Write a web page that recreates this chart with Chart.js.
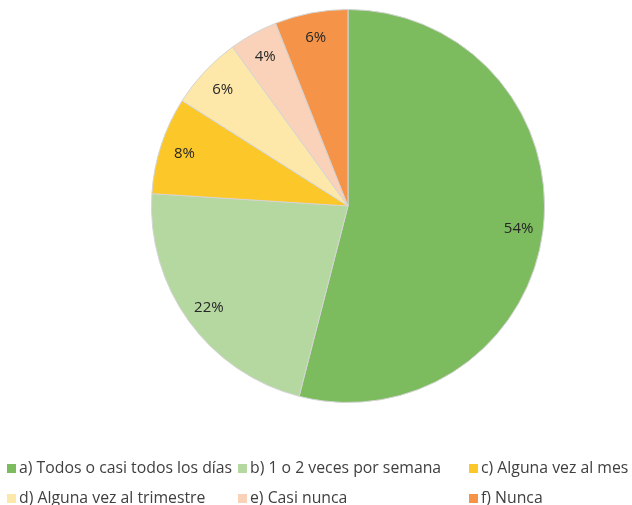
<!DOCTYPE html>
<html>
<head>
<meta charset="utf-8">
<script src="https://cdn.jsdelivr.net/npm/chart.js@4"></script>
<style>
  html, body { margin: 0; padding: 0; background: #ffffff; overflow: hidden; }
  #wrap { position: relative; width: 632px; height: 505px; }
  #c { position: absolute; left: 0; top: 0; }
  .item { position: absolute; font-family: "Open Sans", Lato, sans-serif; font-size: 15.8px; color: #404040; white-space: nowrap; line-height: 18px; }
  .sw { display: inline-block; width: 9px; height: 9px; margin-right: 3px; vertical-align: 0px; }
</style>
</head>
<body>
<div id="wrap">
  <canvas id="c" width="632" height="505"></canvas>
  <div id="legend"></div>
</div>
<script>
const categories = [
  "a) Todos o casi todos los días",
  "b) 1 o 2 veces por semana",
  "c) Alguna vez al mes",
  "d) Alguna vez al trimestre",
  "e) Casi nunca",
  "f) Nunca"
];
const percentages = [54, 22, 8, 6, 4, 6];
const sliceColors = ["#7cbb5e", "#b5d7a0", "#fcc829", "#fde7a9", "#f9d2b9", "#f59448"];
const percentLabels = ["54%", "22%", "8%", "6%", "4%", "6%"];

const labelPlugin = {
  id: "sliceLabels",
  afterDatasetsDraw(chart) {
    const ctx = chart.ctx;
    const meta = chart.getDatasetMeta(0);
    ctx.save();
    ctx.font = "15px 'Open Sans', Lato, sans-serif";
    ctx.fillStyle = "#262626";
    ctx.textAlign = "center";
    ctx.textBaseline = "middle";
    meta.data.forEach((arc, i) => {
      const p = arc.getProps(["x", "y", "startAngle", "endAngle", "outerRadius"], true);
      const mid = (p.startAngle + p.endAngle) / 2;
      const r = p.outerRadius * 0.875;
      ctx.fillText(percentLabels[i], p.x + Math.cos(mid) * r, p.y + Math.sin(mid) * r + 1);
    });
    ctx.restore();
  }
};

const chart = new Chart(document.getElementById("c"), {
  type: "pie",
  data: {
    labels: categories,
    datasets: [{
      data: percentages,
      backgroundColor: sliceColors,
      borderColor: "#d4d4d4",
      borderWidth: 1
    }]
  },
  options: {
    responsive: false,
    animation: false,
    layout: { padding: { top: 9, bottom: 102, left: 64, right: 0 } },
    plugins: {
      legend: { display: false },
      tooltip: { enabled: false }
    }
  },
  plugins: [labelPlugin]
});

// HTML legend built from chart data
const legendPos = [[7, 458], [238, 458], [469, 458], [7, 488], [238, 488], [469, 488]];
const leg = document.getElementById("legend");
categories.forEach((name, i) => {
  const d = document.createElement("div");
  d.className = "item";
  d.style.left = legendPos[i][0] + "px";
  d.style.top = legendPos[i][1] + "px";
  const s = document.createElement("span");
  s.className = "sw";
  s.style.background = sliceColors[i];
  d.appendChild(s);
  d.appendChild(document.createTextNode(name));
  leg.appendChild(d);
});
</script>
</body>
</html>
